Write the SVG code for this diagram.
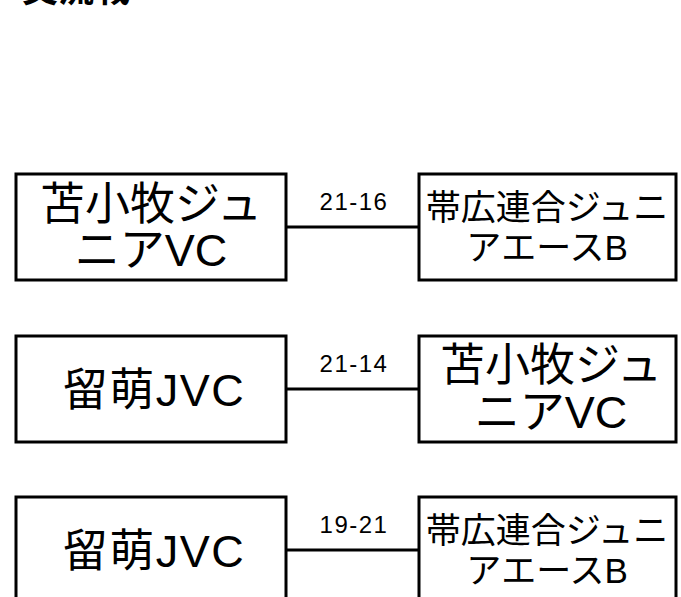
<svg xmlns="http://www.w3.org/2000/svg" width="681" height="597" viewBox="0 0 681 597">
<style>
.box{fill:#fff;stroke:#000;stroke-width:3}
.t{font-family:"Liberation Sans","Noto Sans CJK JP",sans-serif;fill:#000;text-anchor:middle}
.big{font-size:45px}
.sm{font-size:35px}
.lbl{font-family:"Liberation Sans",sans-serif;font-size:24px;fill:#000;text-anchor:middle;letter-spacing:1.5px}
.ttl{font-family:"Noto Sans CJK JP",sans-serif;font-size:36px;font-weight:bold;fill:#000}
.ln{stroke:#000;stroke-width:3;fill:none}
</style>
<rect width="681" height="597" fill="#fff"/>
<text class="ttl" x="22" y="1.5">交流戦</text>
<g id="connectors">
<line class="ln" x1="287" y1="227" x2="418" y2="227"/>
<line class="ln" x1="287" y1="389" x2="418" y2="389"/>
<line class="ln" x1="287" y1="550" x2="418" y2="550"/>
<text class="lbl" x="354" y="210">21-16</text>
<text class="lbl" x="354" y="372">21-14</text>
<text class="lbl" x="354" y="533">19-21</text>
</g>
<g id="n1">
<rect class="box" x="16" y="174" width="270" height="106"/>
<text class="t big" x="151" y="220">苫小牧ジュ</text>
<text class="t big" x="151" y="266">ニアVC</text>
</g>
<g id="n2">
<rect class="box" x="419" y="174" width="257" height="106"/>
<text class="t sm" x="547" y="220">帯広連合ジュニ</text>
<text class="t sm" x="547" y="260">アエースB</text>
</g>
<g id="n3">
<rect class="box" x="16" y="336" width="270" height="106"/>
<text class="t big" x="154" y="406" letter-spacing="1.5">留萌JVC</text>
</g>
<g id="n4">
<rect class="box" x="419" y="336" width="257" height="106"/>
<text class="t big" x="551" y="381">苫小牧ジュ</text>
<text class="t big" x="551" y="428">ニアVC</text>
</g>
<g id="n5">
<rect class="box" x="16" y="497" width="270" height="106"/>
<text class="t big" x="154" y="567" letter-spacing="1.5">留萌JVC</text>
</g>
<g id="n6">
<rect class="box" x="419" y="497" width="257" height="106"/>
<text class="t sm" x="547" y="543">帯広連合ジュニ</text>
<text class="t sm" x="547" y="583">アエースB</text>
</g>
</svg>
